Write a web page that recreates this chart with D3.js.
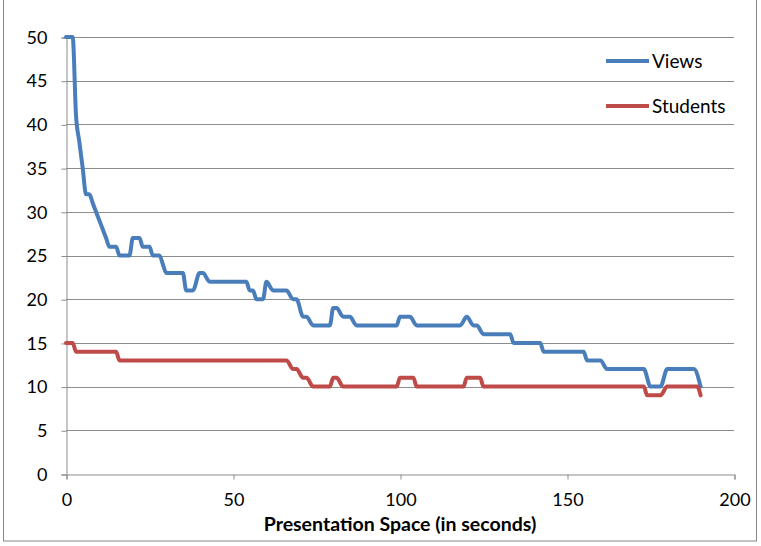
<!DOCTYPE html>
<html>
<head>
<meta charset="utf-8">
<script src="https://cdn.jsdelivr.net/npm/d3@7"></script>
<style>
  body { margin: 0; background: #fff; }
  svg { display: block; font-family: Lato, "Open Sans", sans-serif; }
</style>
</head>
<body>
<div id="chart"></div>
<script>
// [seconds, count] at the corners of each step
const views = [
  [0, 50], [2, 50], [3, 41], [4, 38], [5, 35], [6, 32], [7, 32], [8, 31], [9, 30],
  [10, 29], [11, 28], [12, 27], [13, 26], [15, 26], [16, 25], [19, 25], [20, 27],
  [22, 27], [23, 26], [25, 26], [26, 25], [28, 25], [29, 24], [30, 23], [35, 23],
  [36, 21], [38, 21], [40, 23], [41, 23], [43, 22], [54, 22], [55, 21], [56, 21],
  [57, 20], [59, 20], [60, 22], [62, 21], [66, 21], [68, 20], [69, 20], [71, 18],
  [72, 18], [74, 17], [79, 17], [80, 19], [81, 19], [83, 18], [85, 18], [87, 17],
  [99, 17], [100, 18], [103, 18], [105, 17], [118, 17], [120, 18], [122, 17],
  [123, 17], [125, 16], [133, 16], [134, 15], [142, 15], [143, 14], [155, 14],
  [156, 13], [160, 13], [162, 12], [173, 12], [175, 10], [178, 10], [180, 12],
  [188, 12], [190, 10]
];
const students = [
  [0, 15], [2, 15], [3, 14], [15, 14], [16, 13], [66, 13], [68, 12], [69, 12],
  [71, 11], [72, 11], [74, 10], [79, 10], [80, 11], [81, 11], [83, 10], [99, 10],
  [100, 11], [104, 11], [105, 10], [119, 10], [120, 11], [124, 11], [125, 10],
  [173, 10], [174, 9], [178, 9], [180, 10], [189, 10], [190, 9]
];
const seriesNames = ["Views", "Students"];
const xTicks = [0, 50, 100, 150, 200];
const yTicks = [0, 5, 10, 15, 20, 25, 30, 35, 40, 45, 50];
const xTitle = "Presentation Space (in seconds)";

const width = 761, height = 546;
const margin = { top: 37, right: 27, bottom: 72, left: 66 };
const colors = ["#4a7ebb", "#be4b48"];

const svg = d3.select("#chart").append("svg")
  .attr("width", width)
  .attr("height", height);

// chart area border
svg.append("rect")
  .attr("x", 3.5).attr("y", -2)
  .attr("width", 753).attr("height", 543)
  .attr("fill", "none").attr("stroke", "#868686");

const x = d3.scaleLinear().domain([0, 200]).range([margin.left, width - margin.right]);
const y = d3.scaleLinear().domain([0, 50]).range([height - margin.bottom, margin.top]);

// gridlines
svg.append("g")
  .selectAll("line")
  .data(yTicks.filter(d => d > 0))
  .join("line")
    .attr("x1", x(0)).attr("x2", x(200))
    .attr("y1", d => Math.round(y(d)) + 0.5)
    .attr("y2", d => Math.round(y(d)) + 0.5)
    .attr("stroke", "#8c8c8c");

const yAxis = svg.append("g")
  .attr("transform", `translate(${Math.round(x(0)) + 0.5},0.5)`)
  .call(d3.axisLeft(y).tickValues(yTicks).tickSize(5).tickPadding(14));

const xAxis = svg.append("g")
  .attr("transform", `translate(0.5,${Math.round(y(0)) + 0.5})`)
  .call(d3.axisBottom(x).tickValues(xTicks).tickSize(5).tickPadding(14));

[yAxis, xAxis].forEach(g => {
  g.select(".domain").attr("stroke", "#8c8c8c");
  g.selectAll(".tick line").attr("stroke", "#8c8c8c");
  g.selectAll(".tick text").attr("fill", "#000").style("font-size", "18px").style("font-family", "Lato, 'Open Sans', sans-serif");
});

svg.append("text")
  .attr("x", 400).attr("y", 531)
  .attr("text-anchor", "middle")
  .style("font-size", "19.5px")
  .style("font-weight", "bold")
  .text(xTitle);

const line = d3.line()
  .x(d => x(d[0]))
  .y(d => y(d[1]))
  .curve(d3.curveMonotoneX);

svg.append("g")
  .selectAll("path")
  .data([views, students])
  .join("path")
    .attr("d", line)
    .attr("fill", "none")
    .attr("stroke", (d, i) => colors[i])
    .attr("stroke-width", 4)
    .attr("stroke-linejoin", "round")
    .attr("stroke-linecap", "round");

// legend
const legend = svg.append("g")
  .selectAll("g")
  .data(seriesNames)
  .join("g")
    .attr("transform", (d, i) => `translate(606,${61 + i * 45})`);

legend.append("line")
  .attr("x1", 0).attr("x2", 43)
  .attr("stroke", (d, i) => colors[i])
  .attr("stroke-width", 4);

legend.append("text")
  .attr("x", 46).attr("dy", "0.35em")
  .style("font-size", "19px")
  .text(d => d);
</script>
</body>
</html>
